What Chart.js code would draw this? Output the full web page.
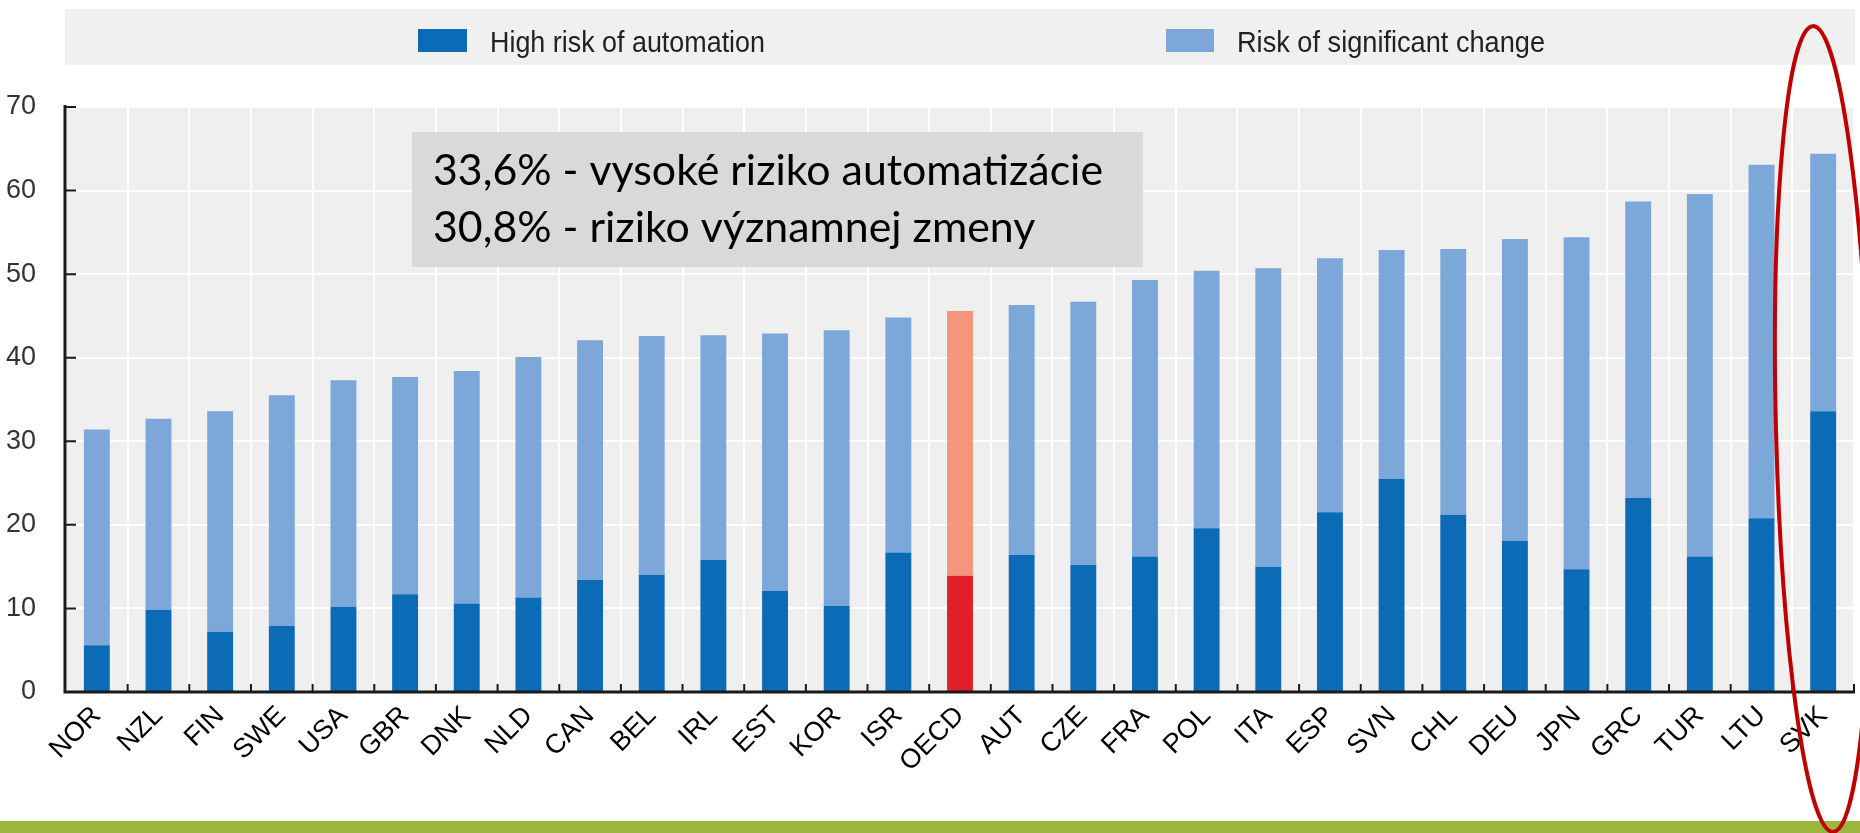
<!DOCTYPE html>
<html>
<head>
<meta charset="utf-8">
<script src="https://cdn.jsdelivr.net/npm/chart.js@4.4.1/dist/chart.umd.min.js"></script>
<style>
  html, body { margin: 0; padding: 0; background: #fff; }
  #wrap { width: 1860px; height: 833px; }
</style>
</head>
<body>
<div id="wrap"><canvas id="chart" width="1860" height="833"></canvas></div>
<script>
// data (share of jobs, %)
const countries = ['NOR', 'NZL', 'FIN', 'SWE', 'USA', 'GBR', 'DNK', 'NLD', 'CAN', 'BEL',
  'IRL', 'EST', 'KOR', 'ISR', 'OECD', 'AUT', 'CZE', 'FRA', 'POL', 'ITA',
  'ESP', 'SVN', 'CHL', 'DEU', 'JPN', 'GRC', 'TUR', 'LTU', 'SVK'];
const highRisk = [5.6, 9.8, 7.2, 7.9, 10.2, 11.7, 10.6, 11.3, 13.4, 14.0,
  15.8, 12.1, 10.3, 16.7, 13.9, 16.4, 15.2, 16.2, 19.6, 15.0,
  21.5, 25.5, 21.2, 18.1, 14.7, 23.2, 16.2, 20.8, 33.6];
const significantChange = [25.8, 22.9, 26.4, 27.6, 27.1, 26.0, 27.8, 28.8, 28.7, 28.6,
  26.9, 30.8, 33.0, 28.1, 31.7, 29.9, 31.5, 33.1, 30.8, 35.7,
  30.4, 27.4, 31.8, 36.1, 39.7, 35.5, 43.4, 42.3, 30.8];
const yTicks = [0, 10, 20, 30, 40, 50, 60, 70];
const seriesNames = ['High risk of automation', 'Risk of significant change'];
const noteLines = ['33,6% - vysoké riziko automatizácie', '30,8% - riziko významnej zmeny'];

const darkBlue = '#0b6bb6';
const lightBlue = '#7ba7d9';
const oecdDark = '#e01f28';
const oecdLight = '#f4967b';

const sans = "'Liberation Sans', Arial, sans-serif";

const darkColors = countries.map(c => c === 'OECD' ? oecdDark : darkBlue);
const lightColors = countries.map(c => c === 'OECD' ? oecdLight : lightBlue);

const decor = {
  id: 'decor',
  beforeDraw(chart) {
    const { ctx, chartArea: a } = chart;
    ctx.save();
    // plot background
    ctx.fillStyle = '#efefef';
    ctx.fillRect(a.left, a.top, a.right - a.left, a.bottom - a.top);
    // legend band
    ctx.fillStyle = '#f0f0f0';
    ctx.fillRect(65, 9, 1790, 56);
    const items = [
      { x: 418, w: 49, tx: 490, tw: 275, color: darkBlue },
      { x: 1166, w: 48, tx: 1237, tw: 308, color: lightBlue }
    ];
    items.forEach((it, i) => {
      ctx.fillStyle = it.color;
      ctx.fillRect(it.x, 29, it.w, 23);
      ctx.fillStyle = '#222';
      ctx.font = '29px ' + sans;
      ctx.textBaseline = 'alphabetic';
      ctx.fillText(seriesNames[i], it.tx, 52, it.tw);
    });
    ctx.restore();
  },
  afterDatasetsDraw(chart) {
    const { ctx, chartArea: a, scales } = chart;
    ctx.save();
    ctx.strokeStyle = '#1a1a1a';
    ctx.lineWidth = 3;
    ctx.beginPath();
    ctx.moveTo(a.left - 1, a.top - 2);
    ctx.lineTo(a.left - 1, a.bottom);
    ctx.lineTo(a.right + 1, a.bottom);
    ctx.stroke();
    ctx.lineWidth = 2;
    ctx.beginPath();
    yTicks.forEach(v => {
      const y = scales.y.getPixelForValue(v);
      if (v === 0) return;
      ctx.moveTo(a.left - 1, y);
      ctx.lineTo(a.left + 10, y);
    });
    const step = (a.right - a.left) / countries.length;
    for (let i = 1; i <= countries.length; i++) {
      const x = a.left + step * i;
      ctx.moveTo(x, a.bottom);
      ctx.lineTo(x, a.bottom - 8);
    }
    ctx.stroke();
    ctx.restore();
  },
  afterDraw(chart) {
    const { ctx } = chart;
    ctx.save();
    // note box
    ctx.fillStyle = '#d9d9d9';
    ctx.fillRect(412, 132, 731, 135);
    ctx.fillStyle = '#000';
    ctx.font = '43px Lato, "Open Sans", sans-serif';
    ctx.textBaseline = 'alphabetic';
    const w = ctx.measureText(noteLines[0]).width;
    const k = 670 / w;
    ctx.save();
    ctx.translate(433, 0);
    ctx.scale(k, 1);
    ctx.fillText(noteLines[0], 0, 185);
    ctx.fillText(noteLines[1], 0, 242);
    ctx.restore();
    // green band
    ctx.fillStyle = '#9db43d';
    ctx.fillRect(0, 821, 1860, 12);
    // red ellipse
    ctx.strokeStyle = '#c00000';
    ctx.lineWidth = 4;
    ctx.beginPath();
    ctx.ellipse(1823, 429, 47, 403, -0.025, 0, Math.PI * 2);
    ctx.stroke();
    ctx.restore();
  }
};

new Chart(document.getElementById('chart'), {
  type: 'bar',
  data: {
    labels: countries,
    datasets: [
      { label: seriesNames[0], data: highRisk, backgroundColor: darkColors },
      { label: seriesNames[1], data: significantChange, backgroundColor: lightColors }
    ]
  },
  options: {
    responsive: false,
    animation: false,
    devicePixelRatio: 1,
    layout: { padding: { top: 107, left: 0, right: 6, bottom: 0 } },
    datasets: { bar: { categoryPercentage: 1, barPercentage: 0.42 } },
    plugins: { legend: { display: false }, tooltip: { enabled: false } },
    scales: {
      x: {
        stacked: true,
        grid: { color: '#ffffff', lineWidth: 2, drawTicks: false, offset: true },
        border: { display: false },
        ticks: {
          color: '#000',
          font: { family: sans, size: 27 },
          minRotation: 45,
          maxRotation: 45,
          padding: 8,
          autoSkip: false
        },
        afterFit(scale) { scale.height = 833 - 692; }
      },
      y: {
        stacked: true,
        min: 0,
        max: 70,
        grid: { color: '#ffffff', lineWidth: 2, drawTicks: false },
        border: { display: false },
        ticks: {
          stepSize: 10,
          color: '#333',
          font: { family: sans, size: 27 },
          padding: 30
        },
        afterFit(scale) { scale.width = 66; }
      }
    }
  },
  plugins: [decor]
});
</script>
</body>
</html>
